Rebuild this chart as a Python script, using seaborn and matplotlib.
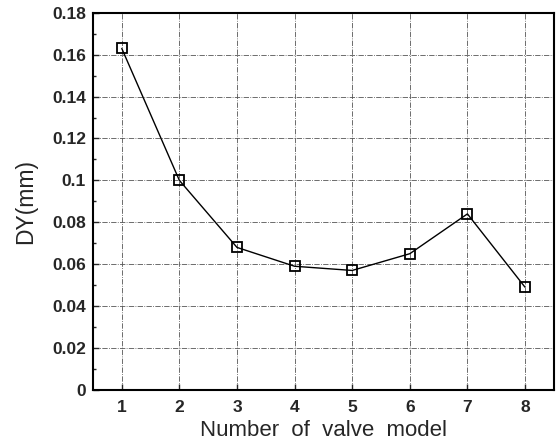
import matplotlib
matplotlib.use("Agg")
import matplotlib.pyplot as plt
import seaborn as sns
import pandas as pd
from matplotlib.ticker import MultipleLocator

valve_model = [1, 2, 3, 4, 5, 6, 7, 8]
dy_mm = [0.163, 0.100, 0.068, 0.059, 0.057, 0.065, 0.084, 0.049]
y_ticks = [0, 0.02, 0.04, 0.06, 0.08, 0.1, 0.12, 0.14, 0.16, 0.18]
y_tick_labels = ["0", "0.02", "0.04", "0.06", "0.08", "0.1", "0.12", "0.14", "0.16", "0.18"]

df = pd.DataFrame({"model": valve_model, "dy": dy_mm})

sns.set_style("ticks")
plt.rcParams["font.family"] = ["Liberation Sans", "DejaVu Sans"]

fig = plt.figure(figsize=(5.6, 4.42), dpi=100)
ax = fig.add_axes([0.166, 0.118, 0.823, 0.853])

sns.lineplot(data=df, x="model", y="dy", ax=ax, color="black", linewidth=1.0,
             marker="s", markersize=7, markerfacecolor="none",
             markeredgecolor="black", markeredgewidth=1.3)

ax.set_xlim(0.5, 8.5)
ax.set_ylim(0, 0.18)
ax.xaxis.set_major_locator(MultipleLocator(1))
ax.set_yticks(y_ticks)
ax.set_yticklabels(y_tick_labels)
ax.yaxis.set_minor_locator(MultipleLocator(0.01))

ax.grid(True, which="major", color="#555555", linestyle="-.", linewidth=0.6)
ax.tick_params(direction="in", which="both", length=4, labelsize=12.5, width=1, pad=5)
ax.tick_params(axis="x", pad=7)
ax.tick_params(which="minor", length=2.5)
for lbl in ax.get_xticklabels() + ax.get_yticklabels():
    lbl.set_fontweight("bold")
for s in ax.spines.values():
    s.set_linewidth(1.5)
    s.set_color("black")

ax.set_xlabel("Number  of  valve  model", fontsize=16, labelpad=4)
ax.set_ylabel("DY(mm)", fontsize=16.5, labelpad=11)

fig.savefig("out.png", dpi=100)
